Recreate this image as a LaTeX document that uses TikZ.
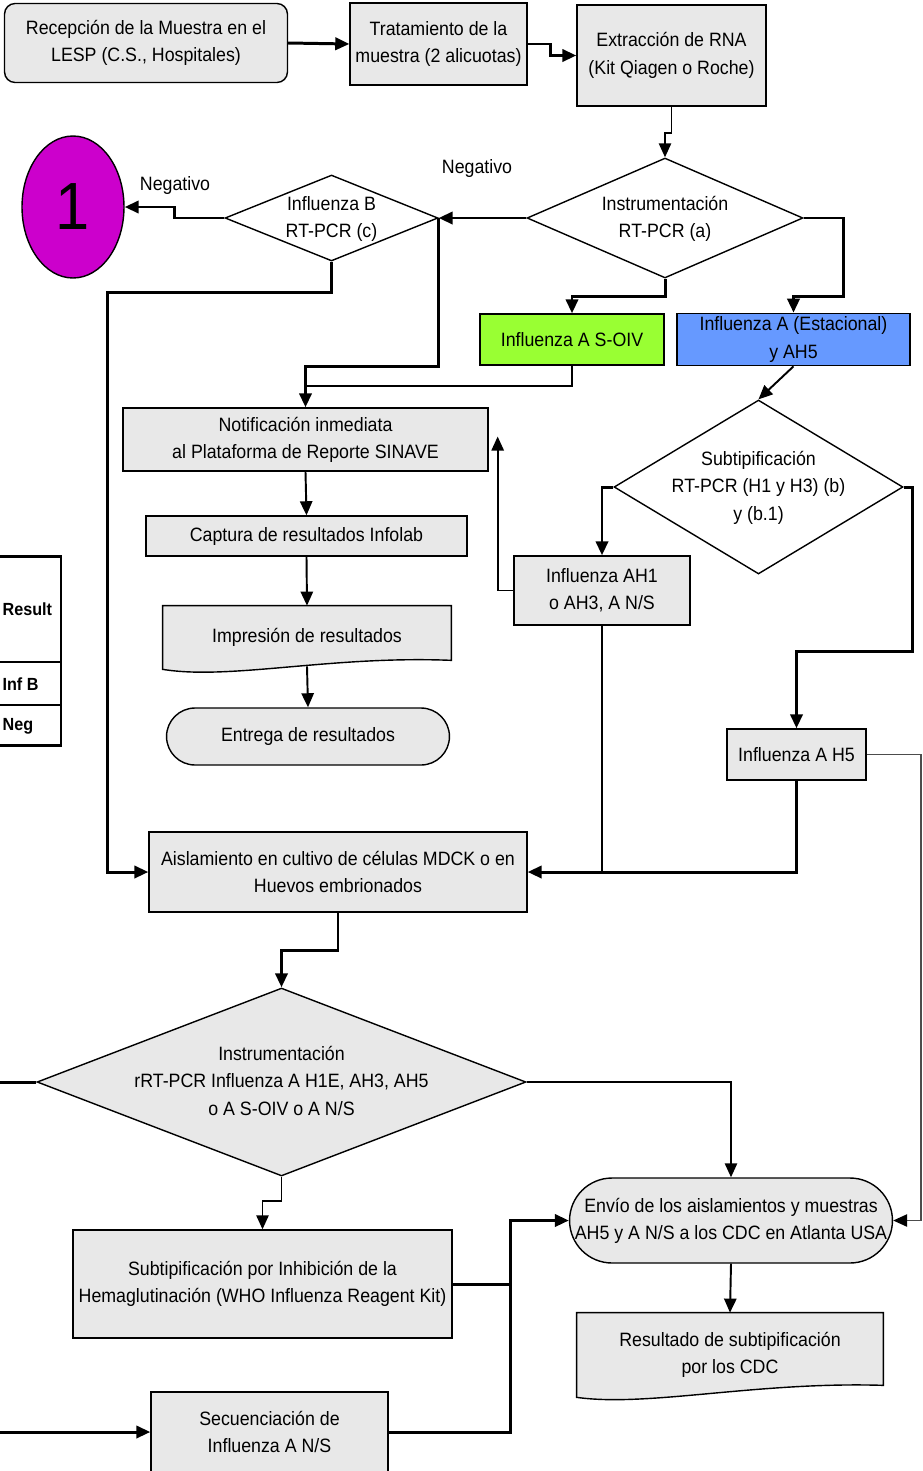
\documentclass[tikz,border=0pt]{standalone}
\usepackage{fontspec}
\setmainfont{Liberation Sans}[FakeStretch=0.92]
\usepackage{tikz}
\usetikzlibrary{positioning, arrows.meta, calc, backgrounds, shapes.geometric, shapes.misc}
\definecolor{boxgray}{HTML}{E8E8E8}
\definecolor{soivgreen}{HTML}{99FF33}
\definecolor{estblue}{HTML}{6699FF}
\definecolor{unomag}{HTML}{CC00CC}
\newcommand{\flowfont}{\fontsize{11}{15.5}\selectfont}
\newcommand{\dtext}[1]{\smash{\makebox[0pt]{\raisebox{-0.27em}{\begin{tabular}{@{}c@{}}#1\end{tabular}}}}}
\tikzset{
    procbox/.style    = {draw, line width=0.8pt, fill=boxgray, align=center,
                         font=\flowfont, inner sep=2pt},
    startbox/.style   = {procbox, rounded corners=6pt},
    decision/.style   = {diamond, draw, line width=0.8pt, fill=white,
                         inner sep=0pt, font=\flowfont},
    termbox/.style    = {procbox, rounded rectangle},
    docbox/.style     = {align=center, font=\flowfont, inner sep=2pt},
    docshape/.style   = {draw, line width=0.8pt, fill=boxgray},
    edge/.style       = {-{Triangle[length=8pt, width=7pt, color=black]}, line width=1.1pt},
    thickedge/.style  = {edge, line width=1.7pt},
    plainline/.style  = {line width=1.1pt},
    thickline/.style  = {line width=1.7pt},
    edgelbl/.style    = {font=\flowfont, inner sep=1pt},
    tabcell/.style    = {font=\fontsize{10}{12}\selectfont\bfseries, inner sep=1pt, anchor=west},
}

\begin{document}
\begin{tikzpicture}[x=0.02cm, y=-0.02cm]

\useasboundingbox (0,0) rectangle (923,1471);
\clip (0,0) rectangle (923,1471);

% top row
\node[startbox, minimum width=5.66cm, minimum height=1.58cm] (recep) at (146,43)
    {Recepción de la Muestra en el\\LESP (C.S., Hospitales)};
\node[procbox, minimum width=3.54cm, minimum height=1.64cm] (trat) at (438.5,44)
    {Tratamiento de la\\muestra (2 alicuotas)};
\node[procbox, minimum width=3.78cm, minimum height=2.02cm] (extr) at (671.5,55.5)
    {Extracción de RNA\\(Kit Qiagen o Roche)};

% first screening
\node[decision, minimum width=5.52cm, minimum height=2.4cm] (instrA) at (665,218)
    {\dtext{Instrumentación\\RT-PCR (a)}};
\node[decision, minimum width=4.26cm, minimum height=1.72cm] (infB) at (331.5,218)
    {\dtext{Influenza B\\RT-PCR (c)}};
\node[ellipse, draw, line width=0.8pt, fill=unomag, minimum width=2.04cm,
      minimum height=2.84cm, font=\fontsize{38}{40}\selectfont] (uno) at (73,207) {1};
\node[edgelbl] (negB) at (175,185) {Negativo};
\node[edgelbl] (negA) at (477,168) {Negativo};

\node[procbox, fill=soivgreen, minimum width=3.68cm, minimum height=1.02cm] (soiv) at (572,339.5)
    {Influenza A S-OIV};
\node[procbox, fill=estblue, minimum width=4.66cm, minimum height=1.02cm] (estac) at (793.5,339.5)
    {Influenza A (Estacional)\\y AH5};

% reporting chain
\node[procbox, minimum width=7.3cm, minimum height=1.26cm] (notif) at (305.5,439.5)
    {Notificación inmediata\\al Plataforma de Reporte SINAVE};
\node[procbox, minimum width=6.42cm, minimum height=0.8cm] (captura) at (306.5,536)
    {Captura de resultados Infolab};
\node[docbox, minimum width=5.76cm, minimum height=1.26cm] (impres) at (307,637.5)
    {Impresión de resultados};
\node[termbox, minimum width=5.8cm, minimum height=1.14cm] (entrega) at (308,736.5)
    {Entrega de resultados};

% subtyping
\node[decision, minimum width=5.78cm, minimum height=3.48cm] (subtip) at (758.5,487)
    {\dtext{Subtipificación\\RT-PCR (H1 y H3) (b)\\y (b.1)}};
\node[procbox, minimum width=3.52cm, minimum height=1.38cm] (ah1) at (602,590.5)
    {Influenza AH1\\o AH3, A N/S};
\node[procbox, minimum width=2.78cm, minimum height=1.02cm] (h5) at (796.5,754.5)
    {Influenza A H5};

% isolation
\node[procbox, minimum width=7.56cm, minimum height=1.6cm] (aisl) at (338,872)
    {Aislamiento en cultivo de células MDCK o en\\Huevos embrionados};
\node[decision, fill=boxgray, minimum width=9.78cm, minimum height=3.76cm] (instrB) at (281.5,1082)
    {\dtext{Instrumentación\\rRT-PCR Influenza A H1E, AH3, AH5\\o A S-OIV o A N/S}};
\node[termbox, minimum width=6.6cm, minimum height=1.7cm] (envio) at (731,1220.5)
    {\dtext{Envío de los aislamientos y muestras\\AH5 y A N/S a los CDC en Atlanta USA}};
\node[procbox, minimum width=7.58cm, minimum height=2.16cm] (hemag) at (262.5,1284)
    {Subtipificación por Inhibición de la\\Hemaglutinación (WHO Influenza Reagent Kit)};
\node[docbox, minimum width=6.12cm, minimum height=1.68cm] (result) at (730,1355)
    {Resultado de subtipificación\\por los CDC};
\node[procbox, minimum width=4.74cm, minimum height=1.6cm] (secu) at (269.5,1432)
    {Secuenciación de\\Influenza A N/S};

\coordinate (outL) at (0,1082);
\coordinate (inL) at (0,1432);

% document outlines
\begin{scope}[on background layer]
\draw[docshape] (impres.north west) -- (impres.north east)
    -- ($(impres.south east)+(0,-9)$)
    .. controls ($(impres.south east)+(-120,-14)$) and ($(impres.south west)+(67,11)$)
    .. (impres.south west) -- cycle;
\draw[docshape] (result.north west) -- (result.north east)
    -- ($(result.south east)+(0,-12)$)
    .. controls ($(result.south east)+(-127,-16)$) and ($(result.south west)+(71,10)$)
    .. (result.south west) -- cycle;
\end{scope}

% partial result table
\draw[line width=1.7pt] (-40,556) rectangle (61,745);
\draw[line width=0.8pt] (-40,662) -- (61,662);
\draw[line width=0.8pt] (-40,705) -- (61,705);
\node[tabcell] (tabres) at (0.5,609) {Result};
\node[tabcell] (tabinfb) at (0.5,684) {Inf B};
\node[tabcell] (tabneg) at (0.5,726) {Neg};

% connectors
\draw[thickedge] (recep.east) -- (trat.west);
\draw[thickedge] (trat.east) -- ++(23,0) |- (extr.west);
\draw[edge] (extr.south) -- ++(0,26) -| (instrA.north);
\draw[thickedge] (instrA.west) -- (infB.east);
\draw[thickedge] (infB.west) -- ++(-50,0) |- (uno.east);
\draw[thickedge] (instrA.south) -- ++(0,18) -| (soiv.north);
\draw[thickedge] (instrA.east) -| ++(40,78) -| (estac.north);
\draw[edge] (estac.south) -- (subtip.north);
\draw[thickedge] (infB.east) -- ++(0,148) -| (notif.north);
\draw[plainline] (soiv.south) |- ($(notif.north)+(0,-21)$);
\draw[thickedge] (infB.south) -- ++(0,31) -| ($(aisl.west)+(-41,0)$) -- (aisl.west);
\draw[edge] (notif.south) -- (captura.north);
\draw[edge] (captura.south) -- (impres.north);
\draw[edge] ($(impres.south)+(0,-3)$) -- (entrega.north);
\draw[thickedge] (subtip.west) -| (ah1.north);
\draw[edge] (ah1.west) -| ($(notif.east)+(9,-3)$);
\draw[plainline] (ah1.south) -- (ah1.south |- aisl.east);
\draw[thickedge] (subtip.east) -| ++(9,164) -| (h5.north);
\draw[thickedge] (h5.south) |- (aisl.east);
\draw[edge, line width=1pt, draw=black!70] (h5.east) -- ++(54,0) |- (envio.east);
\draw[thickedge] (aisl.south) -- ++(0,38) -| (instrB.north);
\draw[thickline] (instrB.west) -- (outL);
\draw[edge] (instrB.east) -| (envio.north);
\draw[edge] (instrB.south) -- ++(0,24) -| (hemag.north);
\draw[thickedge] (hemag.east) -- ++(58,0) |- (envio.west);
\draw[thickline] (secu.east) -| ($(hemag.east)+(58,0)$);
\draw[thickedge] (inL) -- (secu.west);
\draw[edge] (envio.south) -- (result.north);

\end{tikzpicture}
\end{document}
